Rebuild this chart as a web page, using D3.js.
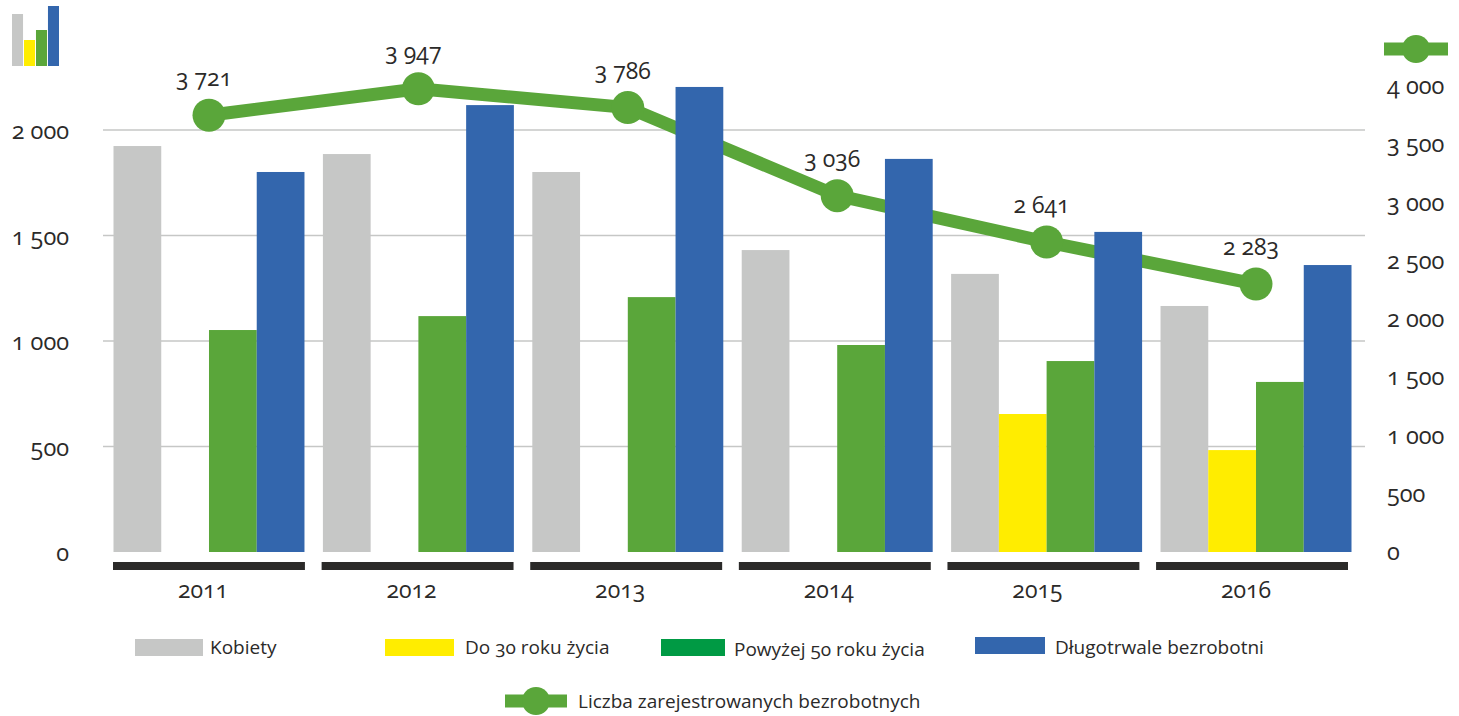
<!DOCTYPE html>
<html lang="pl">
<head>
	<meta charset="utf-8">
	<title>Liczba zarejestrowanych bezrobotnych</title>
	<script src="https://d3js.org/d3.v7.min.js"></script>
	<style>
		body{ margin: 0; background: #fff; }
		svg{ display: block; }
		text{
			font-family: "Open Sans", sans-serif;
			font-feature-settings: "onum", "lnum" 0;
			font-variant-numeric: oldstyle-nums;
			fill: #2b2a29;
		}
		.axis path, .axis line{ display: none; }
	</style>
</head>
<body>
	<script>
		// Data
		var years = ["2011", "2012", "2013", "2014", "2015", "2016"];
		var kobiety = [1924, 1886, 1801, 1431, 1318, 1166];
		var do30 = [0, 0, 0, 0, 654, 483];
		var powyzej50 = [1052, 1118, 1208, 981, 905, 806];
		var dlugotrwale = [1801, 2118, 2204, 1863, 1517, 1360];
		var zarejestrowani = [3721, 3947, 3786, 3036, 2641, 2283];

		var leftTicks = [0, 500, 1000, 1500, 2000];
		var rightTicks = [0, 500, 1000, 1500, 2000, 2500, 3000, 3500, 4000];

		var seriesNames = ["Kobiety", "Do 30 roku życia", "Powyżej 50 roku życia", "Długotrwale bezrobotni"];
		var lineName = "Liczba zarejestrowanych bezrobotnych";
		var barSeries = [kobiety, do30, powyzej50, dlugotrwale];
		var barColors = ["#c6c7c6", "#ffed00", "#5aa63a", "#3366ad"];
		var legendColors = ["#c6c7c6", "#ffed00", "#009a44", "#3366ad"];
		var iconValues = [52, 26, 36, 60];
		var green = "#5aa63a";

		var w = 1459;
		var h = 716;

		var svg = d3.select("body").append("svg")
			.attr("width", w)
			.attr("height", h);

		var pl = d3.formatLocale({decimal: ",", thousands: " ", grouping: [3], currency: ["", " zł"]});
		var fmt = pl.format(",d");

		// Scales
		var x0 = d3.scaleBand().domain(years).range([113.5, 1351.5]).paddingInner(0.088);
		var x1 = d3.scaleBand().domain(d3.range(4)).range([0, x0.bandwidth()]);
		var xTick = d3.scaleBand().domain(years).range([113, 1348]).paddingInner(0.08);
		var yLeft = d3.scaleLinear().domain([0, 2000]).range([552, 130]);
		var yRight = d3.scaleLinear().domain([0, 4000]).range([552, 82.5]);
		var yRightAxis = d3.scaleLinear().domain([0, 4000]).range([553, 87]);

		// Grid lines
		svg.append("g").selectAll("line")
			.data(leftTicks.slice(1))
			.enter().append("line")
			.attr("x1", 103)
			.attr("x2", 1365)
			.attr("y1", function(d){ return yLeft(d); })
			.attr("y2", function(d){ return yLeft(d); })
			.attr("stroke", "#c6c7c6")
			.attr("stroke-width", 1.3);

		// Axes
		var leftAxis = svg.append("g")
			.attr("class", "axis")
			.attr("transform", "translate(69, 1)")
			.call(d3.axisLeft(yLeft).tickValues(leftTicks).tickSize(0).tickPadding(0).tickFormat(fmt));
		leftAxis.selectAll("text").style("font-size", "23.5px");

		var rightAxis = svg.append("g")
			.attr("class", "axis")
			.attr("transform", "translate(1387, -1)")
			.call(d3.axisRight(yRightAxis).tickValues(rightTicks).tickSize(0).tickPadding(0).tickFormat(fmt));
		rightAxis.selectAll("text").style("font-size", "23.5px");

		// Line sits behind the bars, the blue bars cut through it
		var line = d3.line()
			.x(function(d, i){ return x0(years[i]) + x0.bandwidth() / 2; })
			.y(function(d){ return yRight(d); });

		svg.append("path")
			.datum(zarejestrowani)
			.attr("d", line)
			.attr("fill", "none")
			.attr("stroke", green)
			.attr("stroke-width", 13);

		svg.append("g").selectAll("circle")
			.data(zarejestrowani)
			.enter().append("circle")
			.attr("cx", function(d, i){ return x0(years[i]) + x0.bandwidth() / 2; })
			.attr("cy", function(d){ return yRight(d); })
			.attr("r", 16.5)
			.attr("fill", green);

		// Bars
		barSeries.forEach(function(values, s){
			svg.append("g").selectAll("rect")
				.data(values)
				.enter().append("rect")
				.attr("x", function(d, i){ return x0(years[i]) + x1(s); })
				.attr("y", function(d){ return yLeft(d); })
				.attr("width", x1.bandwidth())
				.attr("height", function(d){ return yLeft(0) - yLeft(d); })
				.attr("fill", barColors[s]);
		});

		// Value labels
		svg.append("g").selectAll("text")
			.data(zarejestrowani)
			.enter().append("text")
			.attr("x", function(d, i){ return x0(years[i]) + x0.bandwidth() / 2 - 5; })
			.attr("y", function(d){ return yRight(d) - 29; })
			.attr("text-anchor", "middle")
			.style("font-size", "23px")
			.text(fmt);

		// Dark bars under each year
		svg.append("g").selectAll("rect")
			.data(years)
			.enter().append("rect")
			.attr("x", function(d){ return xTick(d); })
			.attr("y", 562)
			.attr("width", xTick.bandwidth())
			.attr("height", 8)
			.attr("fill", "#2b2a29");

		svg.append("g").selectAll("text")
			.data(years)
			.enter().append("text")
			.attr("x", function(d){ return xTick(d) + xTick.bandwidth() / 2 - 6; })
			.attr("y", 598)
			.attr("text-anchor", "middle")
			.style("font-size", "23px")
			.text(function(d){ return d; });

		// Icon top left
		var iconX = d3.scaleBand().domain(d3.range(4)).range([12, 59]).paddingInner(0.08);
		var iconY = d3.scaleLinear().domain([0, 60]).range([66, 6]);
		svg.append("g").selectAll("rect")
			.data(iconValues)
			.enter().append("rect")
			.attr("x", function(d, i){ return iconX(i); })
			.attr("y", function(d){ return iconY(d); })
			.attr("width", iconX.bandwidth())
			.attr("height", function(d){ return iconY(0) - iconY(d); })
			.attr("fill", function(d, i){ return barColors[i]; });

		// Line key, used top right and in the legend
		function lineKey(x, y, width){
			svg.append("rect")
				.attr("x", x)
				.attr("y", y - 6.5)
				.attr("width", width)
				.attr("height", 13)
				.attr("fill", green);
			svg.append("circle")
				.attr("cx", x + width / 2)
				.attr("cy", y)
				.attr("r", 14)
				.attr("fill", green);
		}
		lineKey(1384, 49, 64);

		// Legend
		var legendX = [135, 385, 661, 975];
		var legendW = [68, 69, 64, 70];
		var legendY = [639, 639, 639, 637];
		var legendTextX = [210, 465, 734, 1055];
		var legendTextY = [654, 654, 656, 654];

		seriesNames.forEach(function(name, i){
			svg.append("rect")
				.attr("x", legendX[i])
				.attr("y", legendY[i])
				.attr("width", legendW[i])
				.attr("height", 17)
				.attr("fill", legendColors[i]);
			svg.append("text")
				.attr("x", legendTextX[i])
				.attr("y", legendTextY[i])
				.style("font-size", "19px")
				.text(name);
		});

		lineKey(505, 701, 62);
		svg.append("text")
			.attr("x", 578)
			.attr("y", 708)
			.style("font-size", "19px")
			.text(lineName);
	</script>
</body>
</html>
